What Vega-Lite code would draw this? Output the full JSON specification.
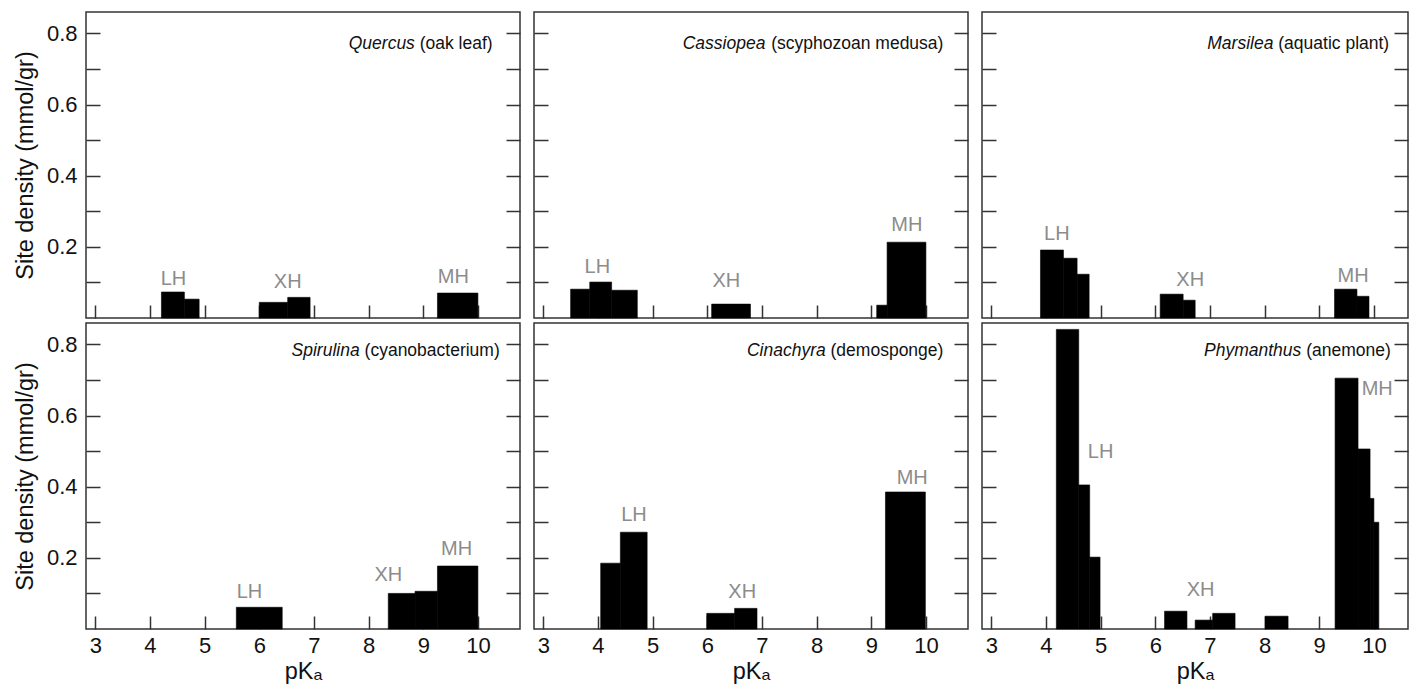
{
  "$schema": "https://vega.github.io/schema/vega-lite/v6.json",
  "padding": {"left": 12, "top": 11, "right": 0, "bottom": 2},
  "background": "white",
  "config": {
    "view": {"stroke": "#333", "strokeWidth": 1.5},
    "axis": {"domain": false, "grid": false, "tickColor": "#333", "tickWidth": 1.5, "labelFont": "Liberation Sans", "labelFontSize": 22, "labelColor": "#111", "titleFont": "Liberation Sans", "titleFontSize": 23.5, "titleFontWeight": "normal", "titleColor": "#111"},
    "text": {"font": "Liberation Sans"},
    "concat": {"spacing": 10}
  },
  "datasets": {
    "bars": [
      {"panel": "Quercus", "x0": 4.21, "x1": 4.63, "v": 0.073},
      {"panel": "Quercus", "x0": 4.63, "x1": 4.90, "v": 0.053},
      {"panel": "Quercus", "x0": 6.00, "x1": 6.52, "v": 0.044},
      {"panel": "Quercus", "x0": 6.52, "x1": 6.93, "v": 0.058},
      {"panel": "Quercus", "x0": 9.26, "x1": 10.00, "v": 0.070},
      {"panel": "Cassiopea", "x0": 3.50, "x1": 3.85, "v": 0.081},
      {"panel": "Cassiopea", "x0": 3.85, "x1": 4.25, "v": 0.101},
      {"panel": "Cassiopea", "x0": 4.25, "x1": 4.72, "v": 0.078},
      {"panel": "Cassiopea", "x0": 6.08, "x1": 6.79, "v": 0.039},
      {"panel": "Cassiopea", "x0": 9.10, "x1": 9.29, "v": 0.036},
      {"panel": "Cassiopea", "x0": 9.29, "x1": 10.00, "v": 0.213},
      {"panel": "Marsilea", "x0": 3.90, "x1": 4.32, "v": 0.191},
      {"panel": "Marsilea", "x0": 4.32, "x1": 4.57, "v": 0.168},
      {"panel": "Marsilea", "x0": 4.57, "x1": 4.79, "v": 0.123},
      {"panel": "Marsilea", "x0": 6.09, "x1": 6.51, "v": 0.067},
      {"panel": "Marsilea", "x0": 6.51, "x1": 6.73, "v": 0.050},
      {"panel": "Marsilea", "x0": 9.28, "x1": 9.69, "v": 0.081},
      {"panel": "Marsilea", "x0": 9.69, "x1": 9.91, "v": 0.061},
      {"panel": "Spirulina", "x0": 5.58, "x1": 6.42, "v": 0.061},
      {"panel": "Spirulina", "x0": 8.36, "x1": 8.85, "v": 0.100},
      {"panel": "Spirulina", "x0": 8.85, "x1": 9.26, "v": 0.106},
      {"panel": "Spirulina", "x0": 9.26, "x1": 10.00, "v": 0.177},
      {"panel": "Cinachyra", "x0": 4.05, "x1": 4.41, "v": 0.185},
      {"panel": "Cinachyra", "x0": 4.41, "x1": 4.90, "v": 0.272},
      {"panel": "Cinachyra", "x0": 5.99, "x1": 6.50, "v": 0.044},
      {"panel": "Cinachyra", "x0": 6.50, "x1": 6.91, "v": 0.058},
      {"panel": "Cinachyra", "x0": 9.26, "x1": 9.99, "v": 0.385},
      {"panel": "Phymanthus", "x0": 4.19, "x1": 4.60, "v": 0.842},
      {"panel": "Phymanthus", "x0": 4.60, "x1": 4.80, "v": 0.405},
      {"panel": "Phymanthus", "x0": 4.80, "x1": 4.99, "v": 0.202},
      {"panel": "Phymanthus", "x0": 6.17, "x1": 6.58, "v": 0.050},
      {"panel": "Phymanthus", "x0": 6.73, "x1": 7.05, "v": 0.025},
      {"panel": "Phymanthus", "x0": 7.05, "x1": 7.46, "v": 0.044},
      {"panel": "Phymanthus", "x0": 8.01, "x1": 8.43, "v": 0.036},
      {"panel": "Phymanthus", "x0": 9.29, "x1": 9.71, "v": 0.705},
      {"panel": "Phymanthus", "x0": 9.71, "x1": 9.93, "v": 0.506},
      {"panel": "Phymanthus", "x0": 9.93, "x1": 10.00, "v": 0.367},
      {"panel": "Phymanthus", "x0": 10.00, "x1": 10.09, "v": 0.300}
    ],
    "labels": [
      {"panel": "Quercus", "label": "LH", "x": 4.43, "y": 0.109},
      {"panel": "Quercus", "label": "XH", "x": 6.52, "y": 0.101},
      {"panel": "Quercus", "label": "MH", "x": 9.55, "y": 0.115},
      {"panel": "Cassiopea", "label": "LH", "x": 3.99, "y": 0.144},
      {"panel": "Cassiopea", "label": "XH", "x": 6.35, "y": 0.1035},
      {"panel": "Cassiopea", "label": "MH", "x": 9.65, "y": 0.261},
      {"panel": "Marsilea", "label": "LH", "x": 4.20, "y": 0.235},
      {"panel": "Marsilea", "label": "XH", "x": 6.64, "y": 0.106},
      {"panel": "Marsilea", "label": "MH", "x": 9.62, "y": 0.119},
      {"panel": "Spirulina", "label": "LH", "x": 5.82, "y": 0.1035},
      {"panel": "Spirulina", "label": "XH", "x": 8.36, "y": 0.153},
      {"panel": "Spirulina", "label": "MH", "x": 9.61, "y": 0.225},
      {"panel": "Cinachyra", "label": "LH", "x": 4.66, "y": 0.32},
      {"panel": "Cinachyra", "label": "XH", "x": 6.64, "y": 0.1035},
      {"panel": "Cinachyra", "label": "MH", "x": 9.75, "y": 0.425},
      {"panel": "Phymanthus", "label": "LH", "x": 5.0, "y": 0.497},
      {"panel": "Phymanthus", "label": "XH", "x": 6.83, "y": 0.111},
      {"panel": "Phymanthus", "label": "MH", "x": 10.06, "y": 0.675}
    ],
    "titles": [
      {"panel": "Quercus", "genus": "Quercus", "common": "(oak leaf)"},
      {"panel": "Cassiopea", "genus": "Cassiopea", "common": "(scyphozoan medusa)"},
      {"panel": "Marsilea", "genus": "Marsilea", "common": "(aquatic plant)"},
      {"panel": "Spirulina", "genus": "Spirulina", "common": "(cyanobacterium)"},
      {"panel": "Cinachyra", "genus": "Cinachyra", "common": "(demosponge)"},
      {"panel": "Phymanthus", "genus": "Phymanthus", "common": "(anemone)"}
    ]
  },
  "vconcat": [
    {
      "hconcat": [
        {
          "width": 434, "height": 306,
          "layer": [
            {"data": {"name": "bars"}, "transform": [{"filter": "datum.panel == 'Quercus'"}],
             "mark": {"type": "rect", "fill": "black", "stroke": "black", "strokeWidth": 0.6},
             "encoding": {
               "x": {"field": "x0", "type": "quantitative", "scale": {"domain": [2.83, 10.77], "nice": false, "zero": false}, "axis": {"values": [3,4,5,6,7,8,9,10], "tickSize": -13, "labels": false, "title": null}},
               "x2": {"field": "x1"},
               "y": {"field": "v", "type": "quantitative", "scale": {"domain": [0, 0.86], "nice": false}, "axis": {"values": [0.1,0.2,0.3,0.4,0.5,0.6,0.7,0.8], "tickSize": -14, "labelPadding": 23, "labelExpr": "round(datum.value*10) % 2 == 0 ? format(datum.value, '.1f') : ''", "title": "Site density (mmol/gr)", "titlePadding": 9}},
               "y2": {"datum": 0}
             }},
            {"data": {"name": "labels"}, "transform": [{"filter": "datum.panel == 'Quercus'"}],
             "mark": {"type": "text", "color": "#8c8c8c", "fontSize": 20, "baseline": "middle"},
             "encoding": {
               "x": {"field": "x", "type": "quantitative"},
               "y": {"field": "y", "type": "quantitative", "axis": {"orient": "right", "values": [0.1,0.2,0.3,0.4,0.5,0.6,0.7,0.8], "tickSize": -14, "labels": false, "title": null}},
               "text": {"field": "label"}
             }},
            {"data": {"name": "titles"}, "transform": [{"filter": "datum.panel == 'Quercus'"}],
             "mark": {"type": "text", "align": "right", "baseline": "middle", "fontSize": 17.5, "color": "#111"},
             "encoding": {"x": {"datum": 10.27, "type": "quantitative"}, "y": {"datum": 0.77, "type": "quantitative", "axis": null}, "text": {"field": "common"}}},
            {"data": {"name": "titles"}, "transform": [{"filter": "datum.panel == 'Quercus'"}],
             "mark": {"type": "text", "align": "right", "baseline": "middle", "fontSize": 17.5, "fontStyle": "italic", "color": "#111", "dx": -77.8},
             "encoding": {"x": {"datum": 10.27, "type": "quantitative"}, "y": {"datum": 0.77, "type": "quantitative", "axis": null}, "text": {"field": "genus"}}}
          ],
          "resolve": {"axis": {"y": "independent"}}
        },
        {
          "width": 434, "height": 306,
          "layer": [
            {"data": {"name": "bars"}, "transform": [{"filter": "datum.panel == 'Cassiopea'"}],
             "mark": {"type": "rect", "fill": "black", "stroke": "black", "strokeWidth": 0.6},
             "encoding": {
               "x": {"field": "x0", "type": "quantitative", "scale": {"domain": [2.83, 10.77], "nice": false, "zero": false}, "axis": {"values": [3,4,5,6,7,8,9,10], "tickSize": -13, "labels": false, "title": null}},
               "x2": {"field": "x1"},
               "y": {"field": "v", "type": "quantitative", "scale": {"domain": [0, 0.86], "nice": false}, "axis": {"values": [0.1,0.2,0.3,0.4,0.5,0.6,0.7,0.8], "tickSize": -14, "labels": false, "title": null}},
               "y2": {"datum": 0}
             }},
            {"data": {"name": "labels"}, "transform": [{"filter": "datum.panel == 'Cassiopea'"}],
             "mark": {"type": "text", "color": "#8c8c8c", "fontSize": 20, "baseline": "middle"},
             "encoding": {
               "x": {"field": "x", "type": "quantitative"},
               "y": {"field": "y", "type": "quantitative", "axis": {"orient": "right", "values": [0.1,0.2,0.3,0.4,0.5,0.6,0.7,0.8], "tickSize": -14, "labels": false, "title": null}},
               "text": {"field": "label"}
             }},
            {"data": {"name": "titles"}, "transform": [{"filter": "datum.panel == 'Cassiopea'"}],
             "mark": {"type": "text", "align": "right", "baseline": "middle", "fontSize": 17.5, "color": "#111"},
             "encoding": {"x": {"datum": 10.32, "type": "quantitative"}, "y": {"datum": 0.77, "type": "quantitative", "axis": null}, "text": {"field": "common"}}},
            {"data": {"name": "titles"}, "transform": [{"filter": "datum.panel == 'Cassiopea'"}],
             "mark": {"type": "text", "align": "right", "baseline": "middle", "fontSize": 17.5, "fontStyle": "italic", "color": "#111", "dx": -178},
             "encoding": {"x": {"datum": 10.32, "type": "quantitative"}, "y": {"datum": 0.77, "type": "quantitative", "axis": null}, "text": {"field": "genus"}}}
          ],
          "resolve": {"axis": {"y": "independent"}}
        },
        {
          "width": 426, "height": 306,
          "layer": [
            {"data": {"name": "bars"}, "transform": [{"filter": "datum.panel == 'Marsilea'"}],
             "mark": {"type": "rect", "fill": "black", "stroke": "black", "strokeWidth": 0.6},
             "encoding": {
               "x": {"field": "x0", "type": "quantitative", "scale": {"domain": [2.83, 10.624], "nice": false, "zero": false}, "axis": {"values": [3,4,5,6,7,8,9,10], "format": "d", "tickSize": -13, "labels": false, "title": null}},
               "x2": {"field": "x1"},
               "y": {"field": "v", "type": "quantitative", "scale": {"domain": [0, 0.86], "nice": false}, "axis": {"values": [0.1,0.2,0.3,0.4,0.5,0.6,0.7,0.8], "tickSize": -14, "labels": false, "title": null}},
               "y2": {"datum": 0}
             }},
            {"data": {"name": "labels"}, "transform": [{"filter": "datum.panel == 'Marsilea'"}],
             "mark": {"type": "text", "color": "#8c8c8c", "fontSize": 20, "baseline": "middle"},
             "encoding": {
               "x": {"field": "x", "type": "quantitative"},
               "y": {"field": "y", "type": "quantitative", "axis": {"orient": "right", "values": [0.1,0.2,0.3,0.4,0.5,0.6,0.7,0.8], "tickSize": -14, "labels": false, "title": null}},
               "text": {"field": "label"}
             }},
            {"data": {"name": "titles"}, "transform": [{"filter": "datum.panel == 'Marsilea'"}],
             "mark": {"type": "text", "align": "right", "baseline": "middle", "fontSize": 17.5, "color": "#111"},
             "encoding": {"x": {"datum": 10.28, "type": "quantitative"}, "y": {"datum": 0.77, "type": "quantitative", "axis": null}, "text": {"field": "common"}}},
            {"data": {"name": "titles"}, "transform": [{"filter": "datum.panel == 'Marsilea'"}],
             "mark": {"type": "text", "align": "right", "baseline": "middle", "fontSize": 17.5, "fontStyle": "italic", "color": "#111", "dx": -115.8},
             "encoding": {"x": {"datum": 10.28, "type": "quantitative"}, "y": {"datum": 0.77, "type": "quantitative", "axis": null}, "text": {"field": "genus"}}}
          ],
          "resolve": {"axis": {"y": "independent"}}
        }
      ]
    },
    {
      "hconcat": [
        {
          "width": 434, "height": 306,
          "layer": [
            {"data": {"name": "bars"}, "transform": [{"filter": "datum.panel == 'Spirulina'"}],
             "mark": {"type": "rect", "fill": "black", "stroke": "black", "strokeWidth": 0.6},
             "encoding": {
               "x": {"field": "x0", "type": "quantitative", "scale": {"domain": [2.83, 10.77], "nice": false, "zero": false}, "axis": {"values": [3,4,5,6,7,8,9,10], "format": "d", "tickSize": -13, "labelPadding": 19, "title": "pKₐ", "titlePadding": 3}},
               "x2": {"field": "x1"},
               "y": {"field": "v", "type": "quantitative", "scale": {"domain": [0, 0.86], "nice": false}, "axis": {"values": [0.1,0.2,0.3,0.4,0.5,0.6,0.7,0.8], "tickSize": -14, "labelPadding": 23, "labelExpr": "round(datum.value*10) % 2 == 0 ? format(datum.value, '.1f') : ''", "title": "Site density (mmol/gr)", "titlePadding": 9}},
               "y2": {"datum": 0}
             }},
            {"data": {"name": "labels"}, "transform": [{"filter": "datum.panel == 'Spirulina'"}],
             "mark": {"type": "text", "color": "#8c8c8c", "fontSize": 20, "baseline": "middle"},
             "encoding": {
               "x": {"field": "x", "type": "quantitative"},
               "y": {"field": "y", "type": "quantitative", "axis": {"orient": "right", "values": [0.1,0.2,0.3,0.4,0.5,0.6,0.7,0.8], "tickSize": -14, "labels": false, "title": null}},
               "text": {"field": "label"}
             }},
            {"data": {"name": "titles"}, "transform": [{"filter": "datum.panel == 'Spirulina'"}],
             "mark": {"type": "text", "align": "right", "baseline": "middle", "fontSize": 17.5, "color": "#111"},
             "encoding": {"x": {"datum": 10.40, "type": "quantitative"}, "y": {"datum": 0.782, "type": "quantitative", "axis": null}, "text": {"field": "common"}}},
            {"data": {"name": "titles"}, "transform": [{"filter": "datum.panel == 'Spirulina'"}],
             "mark": {"type": "text", "align": "right", "baseline": "middle", "fontSize": 17.5, "fontStyle": "italic", "color": "#111", "dx": -140.1},
             "encoding": {"x": {"datum": 10.40, "type": "quantitative"}, "y": {"datum": 0.782, "type": "quantitative", "axis": null}, "text": {"field": "genus"}}}
          ],
          "resolve": {"axis": {"y": "independent"}}
        },
        {
          "width": 434, "height": 306,
          "layer": [
            {"data": {"name": "bars"}, "transform": [{"filter": "datum.panel == 'Cinachyra'"}],
             "mark": {"type": "rect", "fill": "black", "stroke": "black", "strokeWidth": 0.6},
             "encoding": {
               "x": {"field": "x0", "type": "quantitative", "scale": {"domain": [2.83, 10.77], "nice": false, "zero": false}, "axis": {"values": [3,4,5,6,7,8,9,10], "format": "d", "tickSize": -13, "labelPadding": 19, "title": "pKₐ", "titlePadding": 3}},
               "x2": {"field": "x1"},
               "y": {"field": "v", "type": "quantitative", "scale": {"domain": [0, 0.86], "nice": false}, "axis": {"values": [0.1,0.2,0.3,0.4,0.5,0.6,0.7,0.8], "tickSize": -14, "labels": false, "title": null}},
               "y2": {"datum": 0}
             }},
            {"data": {"name": "labels"}, "transform": [{"filter": "datum.panel == 'Cinachyra'"}],
             "mark": {"type": "text", "color": "#8c8c8c", "fontSize": 20, "baseline": "middle"},
             "encoding": {
               "x": {"field": "x", "type": "quantitative"},
               "y": {"field": "y", "type": "quantitative", "axis": {"orient": "right", "values": [0.1,0.2,0.3,0.4,0.5,0.6,0.7,0.8], "tickSize": -14, "labels": false, "title": null}},
               "text": {"field": "label"}
             }},
            {"data": {"name": "titles"}, "transform": [{"filter": "datum.panel == 'Cinachyra'"}],
             "mark": {"type": "text", "align": "right", "baseline": "middle", "fontSize": 17.5, "color": "#111"},
             "encoding": {"x": {"datum": 10.32, "type": "quantitative"}, "y": {"datum": 0.782, "type": "quantitative", "axis": null}, "text": {"field": "common"}}},
            {"data": {"name": "titles"}, "transform": [{"filter": "datum.panel == 'Cinachyra'"}],
             "mark": {"type": "text", "align": "right", "baseline": "middle", "fontSize": 17.5, "fontStyle": "italic", "color": "#111", "dx": -117.7},
             "encoding": {"x": {"datum": 10.32, "type": "quantitative"}, "y": {"datum": 0.782, "type": "quantitative", "axis": null}, "text": {"field": "genus"}}}
          ],
          "resolve": {"axis": {"y": "independent"}}
        },
        {
          "width": 426, "height": 306,
          "layer": [
            {"data": {"name": "bars"}, "transform": [{"filter": "datum.panel == 'Phymanthus'"}],
             "mark": {"type": "rect", "fill": "black", "stroke": "black", "strokeWidth": 0.6},
             "encoding": {
               "x": {"field": "x0", "type": "quantitative", "scale": {"domain": [2.83, 10.624], "nice": false, "zero": false}, "axis": {"values": [3,4,5,6,7,8,9,10], "format": "d", "tickSize": -13, "labelPadding": 19, "title": "pKₐ", "titlePadding": 3}},
               "x2": {"field": "x1"},
               "y": {"field": "v", "type": "quantitative", "scale": {"domain": [0, 0.86], "nice": false}, "axis": {"values": [0.1,0.2,0.3,0.4,0.5,0.6,0.7,0.8], "tickSize": -14, "labels": false, "title": null}},
               "y2": {"datum": 0}
             }},
            {"data": {"name": "labels"}, "transform": [{"filter": "datum.panel == 'Phymanthus'"}],
             "mark": {"type": "text", "color": "#8c8c8c", "fontSize": 20, "baseline": "middle"},
             "encoding": {
               "x": {"field": "x", "type": "quantitative"},
               "y": {"field": "y", "type": "quantitative", "axis": {"orient": "right", "values": [0.1,0.2,0.3,0.4,0.5,0.6,0.7,0.8], "tickSize": -14, "labels": false, "title": null}},
               "text": {"field": "label"}
             }},
            {"data": {"name": "titles"}, "transform": [{"filter": "datum.panel == 'Phymanthus'"}],
             "mark": {"type": "text", "align": "right", "baseline": "middle", "fontSize": 17.5, "color": "#111"},
             "encoding": {"x": {"datum": 10.31, "type": "quantitative"}, "y": {"datum": 0.782, "type": "quantitative", "axis": null}, "text": {"field": "common"}}},
            {"data": {"name": "titles"}, "transform": [{"filter": "datum.panel == 'Phymanthus'"}],
             "mark": {"type": "text", "align": "right", "baseline": "middle", "fontSize": 17.5, "fontStyle": "italic", "color": "#111", "dx": -89.5},
             "encoding": {"x": {"datum": 10.31, "type": "quantitative"}, "y": {"datum": 0.782, "type": "quantitative", "axis": null}, "text": {"field": "genus"}}}
          ],
          "resolve": {"axis": {"y": "independent"}}
        }
      ]
    }
  ],
  "spacing": 2
}
